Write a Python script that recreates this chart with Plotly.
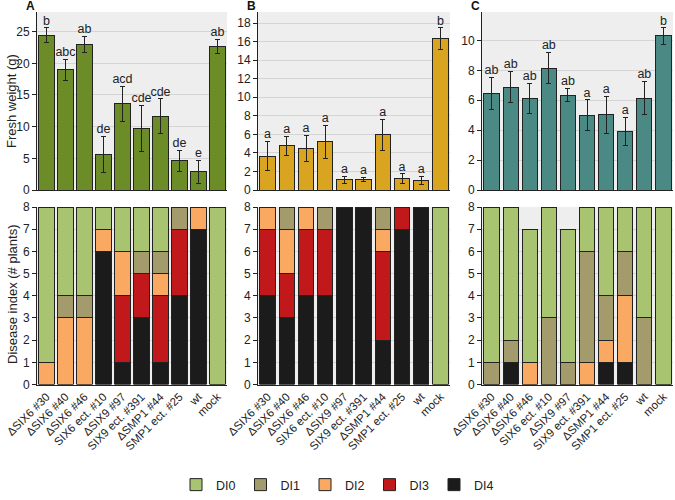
import plotly.graph_objects as go

categories = ["ΔSIX6 #30", "ΔSIX6 #40", "ΔSIX6 #46", "SIX6 ect. #10", "ΔSIX9 #97",
              "SIX9 ect. #391", "ΔSMP1 #44", "SMP1 ect. #25", "wt", "mock"]

# Fresh weight (g) means and errors
fw_A = [24.45, 18.95, 23.0, 5.6, 13.6, 9.75, 11.65, 4.65, 2.85, 22.65]
err_A = [1.15, 1.7, 1.3, 2.85, 2.75, 3.6, 2.75, 1.65, 1.85, 1.1]
let_A = ["b", "abc", "ab", "de", "acd", "cde", "cde", "de", "e", "ab"]

fw_B = [3.65, 4.75, 4.5, 5.2, 1.1, 1.15, 5.95, 1.25, 1.0, 16.35]
err_B = [1.6, 1.05, 1.4, 1.8, 0.35, 0.2, 1.7, 0.5, 0.45, 1.15]
let_B = ["a", "a", "a", "a", "a", "a", "a", "a", "a", "b"]

fw_C = [6.45, 6.88, 6.12, 8.15, 6.35, 5.0, 5.02, 3.92, 6.15, 10.3]
err_C = [1.1, 1.06, 1.0, 1.04, 0.45, 1.04, 1.23, 0.95, 1.1, 0.55]
let_C = ["ab", "ab", "ab", "ab", "ab", "a", "a", "a", "ab", "b"]

# Disease index counts (# plants)
di_names = ["DI4", "DI3", "DI2", "DI1", "DI0"]
A_DI4 = [0, 0, 0, 6, 1, 3, 1, 4, 7, 0]
A_DI3 = [0, 0, 0, 0, 3, 2, 3, 3, 0, 0]
A_DI2 = [1, 3, 3, 1, 2, 0, 1, 0, 1, 0]
A_DI1 = [0, 1, 1, 0, 0, 1, 1, 1, 0, 0]
A_DI0 = [7, 4, 4, 1, 2, 2, 2, 0, 0, 8]

B_DI4 = [4, 3, 4, 4, 8, 8, 2, 7, 8, 0]
B_DI3 = [3, 2, 3, 3, 0, 0, 4, 1, 0, 0]
B_DI2 = [1, 2, 1, 0, 0, 0, 1, 0, 0, 0]
B_DI1 = [0, 1, 0, 1, 0, 0, 1, 0, 0, 0]
B_DI0 = [0, 0, 0, 0, 0, 0, 0, 0, 0, 8]

C_DI4 = [0, 1, 0, 0, 0, 0, 1, 1, 0, 0]
C_DI3 = [0, 0, 0, 0, 0, 0, 0, 0, 0, 0]
C_DI2 = [0, 0, 1, 0, 0, 1, 1, 3, 0, 0]
C_DI1 = [1, 1, 0, 3, 1, 5, 2, 2, 3, 0]
C_DI0 = [7, 6, 6, 5, 6, 2, 4, 2, 5, 8]

di_colors = {"DI0": "#a9c471", "DI1": "#a49b6c", "DI2": "#f9a962", "DI3": "#c0181b", "DI4": "#1b1b1b"}
panel_colors = ["#6b8c26", "#d9a521", "#4b8985"]

fig = go.Figure()

panels = [
    ("A", fw_A, err_A, let_A, [A_DI4, A_DI3, A_DI2, A_DI1, A_DI0], 28.1, 5),
    ("B", fw_B, err_B, let_B, [B_DI4, B_DI3, B_DI2, B_DI1, B_DI0], 19.2, 2),
    ("C", fw_C, err_C, let_C, [C_DI4, C_DI3, C_DI2, C_DI1, C_DI0], 11.9, 2),
]

xdomains = [(37/675, 227/675), (258/675, 450/675), (482/675, 673/675)]
top_dom = (1 - 190/500, 1 - 12/500)
bot_dom = (1 - 384.5/500, 1 - 207/500)

font_fam = "Arial, Liberation Sans, sans-serif"
outline = dict(color="#222222", width=1)

for i, (lab, fw, err, lets, dis, ymax, dtick) in enumerate(panels):
    xt = "x" if i == 0 else f"x{2*i+1}"
    yt = "y" if i == 0 else f"y{2*i+1}"
    xb = f"x{2*i+2}"
    yb = f"y{2*i+2}"
    fig.add_trace(go.Bar(x=categories, y=fw, marker=dict(color=panel_colors[i], line=outline),
                         error_y=dict(type="data", array=err, color="#222222", thickness=1, width=2.5),
                         xaxis=xt, yaxis=yt, showlegend=False))
    fig.add_trace(go.Scatter(x=categories, y=[v + e for v, e in zip(fw, err)], text=lets,
                             mode="text", textposition="top center",
                             textfont=dict(size=12.5, color="#222222", family=font_fam),
                             xaxis=xt, yaxis=yt, showlegend=False, cliponaxis=False))
    for name, vals in zip(di_names, dis):
        fig.add_trace(go.Bar(x=categories, y=vals, name=name,
                             marker=dict(color=di_colors[name], line=outline),
                             xaxis=xb, yaxis=yb, showlegend=(i == 0), legendgroup=name))

    axcommon = dict(showline=True, linecolor="#222222", linewidth=1, automargin=False)
    xkey_t = "xaxis" if i == 0 else f"xaxis{2*i+1}"
    ykey_t = "yaxis" if i == 0 else f"yaxis{2*i+1}"
    fig.layout[xkey_t] = dict(domain=xdomains[i], anchor=yt, showticklabels=False, ticks="",
                              **axcommon)
    fig.layout[ykey_t] = dict(domain=top_dom, anchor=xt, range=[0, ymax], dtick=dtick,
                              ticks="outside", ticklen=4, tickcolor="#222222",
                              showgrid=True, gridcolor="#d4d4d4", gridwidth=1,
                              tickfont=dict(size=12, color="#222222"), **axcommon)
    fig.layout[f"xaxis{2*i+2}"] = dict(domain=xdomains[i], anchor=yb, tickangle=-45,
                                      tickfont=dict(size=11.5, color="#222222"), ticks="",
                                      **axcommon)
    fig.layout[f"yaxis{2*i+2}"] = dict(domain=bot_dom, anchor=xb, range=[0, 8], dtick=1,
                                      ticks="outside", ticklen=4, tickcolor="#222222",
                                      showgrid=True, gridcolor="#d4d4d4", gridwidth=1,
                                      tickfont=dict(size=12, color="#222222"), **axcommon)
    fig.add_annotation(text=f"<b>{lab}</b>", xref="paper", yref="paper",
                       x=(xdomains[i][0] * 675 - 13) / 675, y=1 - 6/500,
                       xanchor="left", yanchor="middle", showarrow=False,
                       font=dict(size=12, color="#111111"))

fig.add_annotation(text="Fresh weight (g)", xref="paper", yref="paper", x=12/675, y=1 - 101/500,
                   textangle=-90, showarrow=False, xanchor="center", yanchor="middle",
                   font=dict(size=13, color="#222222"))
fig.add_annotation(text="Disease index (# plants)", xref="paper", yref="paper", x=12/675,
                   y=1 - 295/500, textangle=-90, showarrow=False, xanchor="center",
                   yanchor="middle", font=dict(size=13, color="#222222"))

fig.update_layout(
    width=675, height=500, autosize=False,
    margin=dict(l=0, r=0, t=0, b=0),
    barmode="stack", bargap=0.2,
    plot_bgcolor="#eeeeee", paper_bgcolor="white",
    font=dict(family=font_fam, color="#222222"),
    legend=dict(orientation="h", x=0.5, xanchor="center", y=0.0, yanchor="bottom",
                traceorder="reversed", itemwidth=30, font=dict(size=12.5),
                itemclick=False),
)

fig.write_html("out.html", config={"displayModeBar": False},
               post_script="document.body.style.margin='0';document.body.style.overflow='hidden';")
